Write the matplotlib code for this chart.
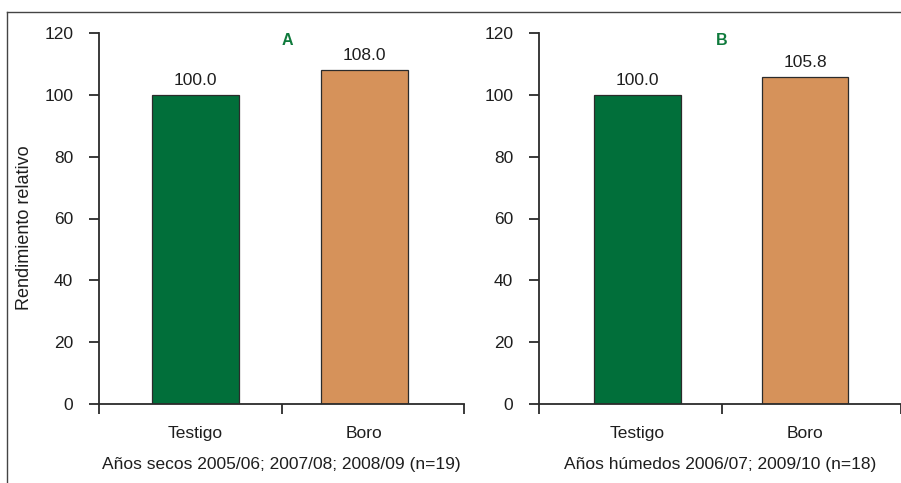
import matplotlib
matplotlib.use("Agg")
import matplotlib.pyplot as plt
from matplotlib.lines import Line2D

plt.rcParams['font.family'] = ['Liberation Sans', 'DejaVu Sans']

categories = ["Testigo", "Boro"]
values_a = [100.0, 108.0]
values_b = [100.0, 105.8]
panel_letters = ["A", "B"]
subtitles = ["Años secos 2005/06; 2007/08; 2008/09 (n=19)",
             "Años húmedos 2006/07; 2009/10 (n=18)"]
y_ticks = [0, 20, 40, 60, 80, 100, 120]
ylabel = "Rendimiento relativo"

colors = ["#016f3a", "#d6925a"]
edge = "#2b2b2b"
txt = "#1e1e1e"
fs = 12.5
W, H = 901, 483
fig = plt.figure(figsize=(W / 100, H / 100), dpi=100)

bottom = (H - 404) / H
height = (404 - 33) / H
axes_specs = [
    dict(left=99, right=464, xlim=(-0.571, 1.589), mid=0.512, letter_x=0.541, values=values_a),
    dict(left=539, right=901, xlim=(-0.588, 1.573), mid=0.504, letter_x=0.504, values=values_b),
]

for i, spec in enumerate(axes_specs):
    ax = fig.add_axes([spec['left'] / W, bottom, (spec['right'] - spec['left']) / W, height])
    x = list(range(len(categories)))
    ax.bar(x, spec['values'], width=0.515, color=colors, edgecolor=edge, linewidth=0.9, zorder=2)
    for xi, v in zip(x, spec['values']):
        ax.annotate(f"{v:.1f}", (xi, v), xytext=(0, 5), textcoords="offset points",
                    ha="center", va="bottom", fontsize=fs, color=txt)
    ax.set_xlim(*spec['xlim'])
    ax.set_ylim(0, 120)
    ax.set_yticks(y_ticks)
    ax.set_xticks(x)
    ax.set_xticklabels(categories)
    ax.set_xticks([spec['xlim'][0], spec['mid'], spec['xlim'][1]], minor=True)
    ax.tick_params(axis='x', which='major', length=0, pad=15.5, labelsize=fs, colors=txt)
    ax.tick_params(axis='x', which='minor', length=7, width=1.3, direction='out', color=edge)
    ax.tick_params(axis='y', length=7.5, width=1.3, direction='out', pad=11, labelsize=fs,
                   colors=txt, color=edge)
    for s in ['top', 'right']:
        ax.spines[s].set_visible(False)
    for s in ['left', 'bottom']:
        ax.spines[s].set_linewidth(1.3)
        ax.spines[s].set_color(edge)
    ax.set_xlabel(subtitles[i], fontsize=fs, color=txt, labelpad=12)
    ax.text(spec['letter_x'], 117.5, panel_letters[i], ha='center', va='center',
            fontsize=11.5, fontweight='bold', color="#0f7a3c")

fig.text(25 / W, 1 - 228 / H, ylabel, rotation=90, ha='center', va='center',
         fontsize=13, color=txt)

fig.add_artist(Line2D([7 / W, 7 / W], [0, 1 - 12 / H], transform=fig.transFigure,
                      color="#444444", linewidth=1.0))
fig.add_artist(Line2D([7 / W, 1], [1 - 12 / H, 1 - 12 / H], transform=fig.transFigure,
                      color="#444444", linewidth=1.0))

fig.savefig("out.png", dpi=100)
